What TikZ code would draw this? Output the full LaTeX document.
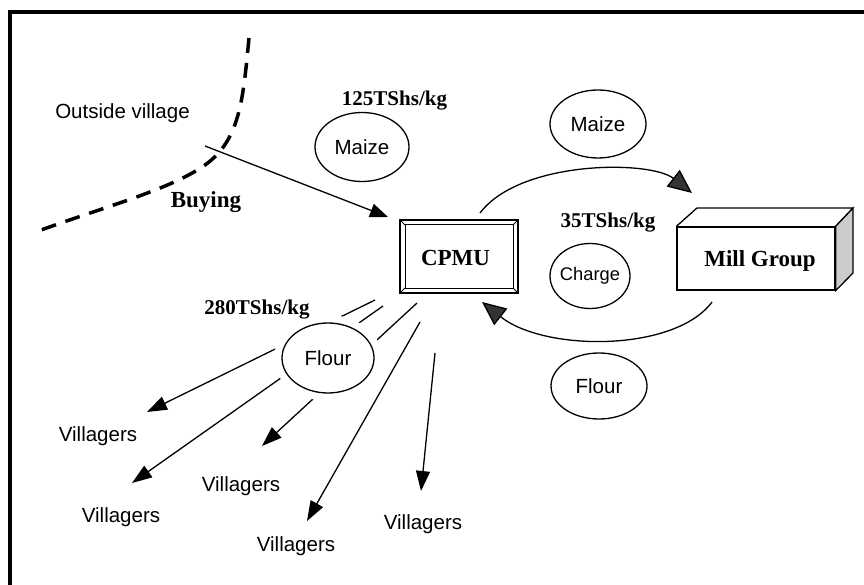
\documentclass[tikz,border=0pt]{standalone}
\usepackage{fontspec}
\setmainfont{Liberation Serif}
\newfontfamily\armfont{Liberation Sans}
\usetikzlibrary{arrows.meta,shapes.geometric}
\tikzset{every picture/.style={line width=1.3pt}}
\tikzset{
  txt/.style={inner sep=0.75pt, font=\armfont\fontsize{20.5}{24}\selectfont},
  price/.style={inner sep=0.75pt, font=\bfseries\fontsize{21}{25}\selectfont},
  actor/.style={inner sep=0.75pt, font=\bfseries\fontsize{23}{27}\selectfont},
  blob/.style={ellipse, draw, fill=white, inner sep=0pt},
  give/.style={-{Triangle[length=20pt,width=14pt]}},
  trade/.style={-{Triangle[length=24pt,width=21pt,fill=black!80]}},
}

\begin{document}
\begin{tikzpicture}[x=1pt,y=1pt,yscale=-1,xscale=1]
\useasboundingbox (0,0) rectangle (864,585);

%Frame
\draw [line width=4pt] (10.3,585) -- (10.3,12) -- (864,12) ;

%Village border
\draw [line width=3.5pt, dash pattern=on 15pt off 10pt] (249,38) .. controls (243,100) and (240,140) .. (205,165) .. controls (170,190) and (100,208) .. (33,233) ;

%CPMU box
\node [draw, minimum width=118, minimum height=73, inner sep=0pt] (cpmu) at (459,256.5) {};
\draw [line width=1pt] (405,225) rectangle (513,288) ;
\draw [line width=1pt] (cpmu.north west) -- (405,225) (cpmu.north east) -- (513,225) (cpmu.south west) -- (405,288) (cpmu.south east) -- (513,288) ;

%Mill Group box
\node [draw, fill=white, minimum width=158, minimum height=63, inner sep=0pt] (mill) at (756,258.5) {};
\draw (mill.north west) -- (697,208) -- (853,208) -- (mill.north east) ;
\draw [fill=black!20] (mill.north east) -- (853,208) -- (853,273) -- (mill.south east) -- cycle ;

%Buying arrow
\coordinate (buyS) at (205,146);
\coordinate (buyT) at (388,217);
\draw [-{Triangle[length=18pt,width=14pt]}] (buyS) -- (buyT) ;

%Maize to mill, flour back
\coordinate (upS) at (480,213);
\coordinate (upT) at (692,193);
\coordinate (loS) at (712,302);
\coordinate (loT) at (482,302);
\draw [trade] (upS) .. controls (520,160) and (650,160) .. (upT) ;
\draw [trade] (loS) .. controls (675,352) and (545,352) .. (loT) ;

%Flour to villagers
\coordinate (s1) at (375,300);  \coordinate (t1) at (147,412);
\coordinate (s2) at (383,306);  \coordinate (t2) at (132,483);
\coordinate (s3) at (417,303);  \coordinate (t3) at (262,446);
\coordinate (s4) at (420,322);  \coordinate (t4) at (307,521);
\coordinate (s5) at (435,353);  \coordinate (t5) at (421,491);
\foreach \i in {1,...,5}
  \draw [give] (s\i) -- (t\i) ;

%Ellipses
\node [blob, minimum width=92, minimum height=70, preaction={draw=white, line width=16pt}] (flourSell) at (328,358) {};
\node [blob, minimum width=94, minimum height=69] (maizeBuy) at (362,147) {};
\node [blob, minimum width=96, minimum height=68] (maizeMill) at (598,124) {};
\node [blob, minimum width=80, minimum height=65] (charge) at (590,276) {};
\node [blob, minimum width=96, minimum height=66] (flourMill) at (599,386) {};

% Text Node
\node [txt] (outside) at (122.5,113) {Outside village};
\node [actor] (buying) at (206,202) {Buying};
\node [actor] (cpmuText) at (455.5,258) {CPMU};
\node [actor] (millText) at (760,261) {Mill Group};
\node [price] (p125) at (394.5,101) {125TShs/kg};
\node [price] (p35) at (608,223) {35TShs/kg};
\node [price] (p280) at (257,310) {280TShs/kg};
\node [txt] at (maizeBuy) {Maize};
\node [txt] at (maizeMill) {Maize};
\node [txt, font=\armfont\fontsize{18.3}{22}\selectfont] at (charge) {Charge};
\node [txt] at (flourMill) {Flour};
\node [txt] at (flourSell) {Flour};
\node [txt] (v1) at (98,436) {Villagers};
\node [txt] (v2) at (121,517) {Villagers};
\node [txt] (v3) at (241,486) {Villagers};
\node [txt] (v4) at (296,546) {Villagers};
\node [txt] (v5) at (423,524) {Villagers};

\end{tikzpicture}
\end{document}
